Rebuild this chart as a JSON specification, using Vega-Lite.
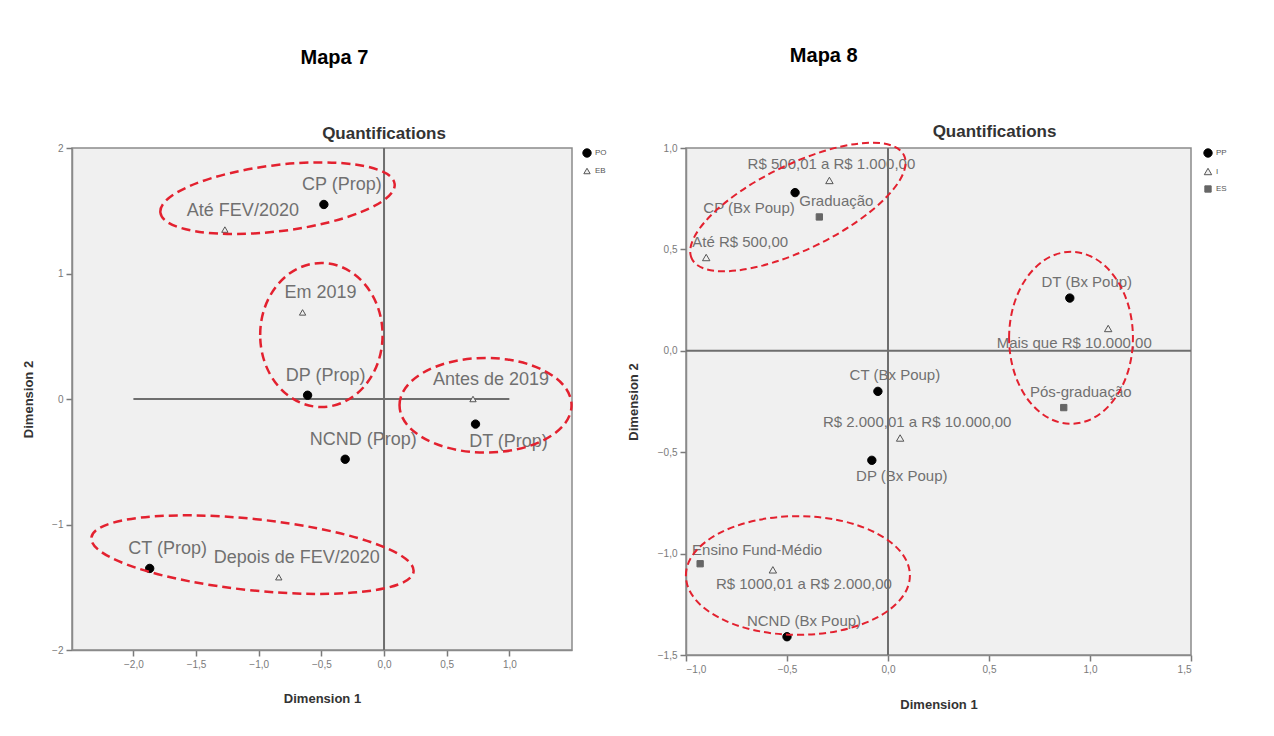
{
  "$schema": "https://vega.github.io/schema/vega-lite/v6.json",
  "background": "white",
  "padding": {"left": 21, "top": 45, "right": 5, "bottom": 5},
  "datasets": {
    "m7": [
      {"lab": "CP (Prop)", "g": "PO", "x": -0.48, "y": 1.55},
      {"lab": "DP (Prop)", "g": "PO", "x": -0.61, "y": 0.03},
      {"lab": "DT (Prop)", "g": "PO", "x": 0.73, "y": -0.2},
      {"lab": "NCND (Prop)", "g": "PO", "x": -0.31, "y": -0.48},
      {"lab": "CT (Prop)", "g": "PO", "x": -1.87, "y": -1.35},
      {"lab": "Até FEV/2020", "g": "EB", "x": -1.27, "y": 1.35},
      {"lab": "Em 2019", "g": "EB", "x": -0.65, "y": 0.69},
      {"lab": "Antes de 2019", "g": "EB", "x": 0.71, "y": 0.0},
      {"lab": "Depois de FEV/2020", "g": "EB", "x": -0.84, "y": -1.42}
    ],
    "m8": [
      {"lab": "CP (Bx Poup)", "g": "PP", "x": -0.46, "y": 0.78},
      {"lab": "CT (Bx Poup)", "g": "PP", "x": -0.05, "y": -0.2},
      {"lab": "DT (Bx Poup)", "g": "PP", "x": 0.9, "y": 0.26},
      {"lab": "DP (Bx Poup)", "g": "PP", "x": -0.08, "y": -0.54},
      {"lab": "NCND (Bx Poup)", "g": "PP", "x": -0.5, "y": -1.41},
      {"lab": "R$ 500,01 a R$ 1.000,00", "g": "I", "x": -0.29, "y": 0.84},
      {"lab": "Até R$ 500,00", "g": "I", "x": -0.9, "y": 0.46},
      {"lab": "Mais que R$ 10.000,00", "g": "I", "x": 1.09, "y": 0.11},
      {"lab": "R$ 2.000,01 a R$ 10.000,00", "g": "I", "x": 0.06, "y": -0.43},
      {"lab": "R$ 1000,01 a R$ 2.000,00", "g": "I", "x": -0.57, "y": -1.08},
      {"lab": "Graduação", "g": "ES", "x": -0.34, "y": 0.66},
      {"lab": "Pós-graduação", "g": "ES", "x": 0.87, "y": -0.28},
      {"lab": "Ensino Fund-Médio", "g": "ES", "x": -0.93, "y": -1.05}
    ],
    "m7ref": [
      {"x": -2, "x2": 1, "y": 0, "y2": 0},
      {"x": 0, "x2": 0, "y": -2, "y2": 2}
    ],
    "m8ref": [
      {"x": -1, "x2": 1.5, "y": 0, "y2": 0},
      {"x": 0, "x2": 0, "y": -1.5, "y2": 1}
    ],
    "m7e": [
      {"e": "e1", "x": -0.85, "y": 1.6},
      {"e": "e2", "x": -0.5, "y": 0.51},
      {"e": "e3", "x": 0.81, "y": -0.05},
      {"e": "e4", "x": -1.05, "y": -1.24}
    ],
    "m8e": [
      {"e": "e5", "x": -0.446, "y": 0.709},
      {"e": "e6", "x": 0.906, "y": 0.064},
      {"e": "e7", "x": -0.446, "y": -1.108}
    ]
  },
  "config": {
    "font": "Liberation Sans",
    "view": {"fill": "#f0f0f0", "stroke": "#8a8a8a", "strokeWidth": 1.5},
    "axis": {
      "grid": false,
      "labelFont": "Liberation Sans",
      "labelFontSize": 10,
      "labelColor": "#7a7a7a",
      "tickColor": "#7a7a7a",
      "tickSize": 6,
      "tickWidth": 1.5,
      "domainColor": "#8a8a8a",
      "domainWidth": 1.5,
      "labelPadding": 3,
      "titleFont": "Liberation Sans",
      "titleFontSize": 13,
      "titleFontWeight": "bold",
      "titleColor": "#333333"
    },
    "legend": {
      "orient": "right",
      "padding": 0,
      "labelFontSize": 8,
      "labelColor": "#555555",
      "symbolStrokeWidth": 1,
      "rowPadding": 6,
      "labelOffset": 3
    },
    "concat": {"spacing": 19}
  },
  "resolve": {
    "scale": {"shape": "independent", "fill": "independent", "stroke": "independent", "size": "independent"},
    "legend": {"shape": "independent", "fill": "independent", "stroke": "independent", "size": "independent"}
  },
  "hconcat": [
    {
      "title": {"text": "Mapa 7", "fontSize": 20, "fontWeight": "bold", "color": "#000000", "anchor": "middle", "frame": "bounds", "dx": 20, "offset": 56},
      "vconcat": [
        {
          "width": 500,
          "height": 502,
          "title": {"text": "Quantifications", "fontSize": 17, "fontWeight": "bold", "color": "#333333", "anchor": "middle", "frame": "group", "dx": 62, "offset": 0},
          "encoding": {
            "x": {"field": "x", "type": "quantitative", "scale": {"domain": [-2.49, 1.5], "nice": false, "zero": false},
              "axis": {"values": [-2, -1.5, -1, -0.5, 0, 0.5, 1], "labelExpr": "replace(format(datum.value, '.1f'), '.', ',')", "title": "Dimension 1", "titlePadding": 23}},
            "y": {"field": "y", "type": "quantitative", "scale": {"domain": [-2, 2], "nice": false, "zero": false},
              "axis": {"values": [-2, -1, 0, 1, 2], "format": "d", "title": "Dimension 2", "titlePadding": 16}}
          },
          "layer": [
            {
              "data": {"name": "m7ref"},
              "mark": {"type": "rule", "color": "#6e6e6e", "strokeWidth": 2},
              "encoding": {"x2": {"field": "x2"}, "y2": {"field": "y2"}}
            },
            {
              "data": {"name": "m7"},
              "mark": {"type": "point", "filled": true, "opacity": 1, "strokeWidth": 1},
              "encoding": {
                "shape": {"field": "g", "type": "nominal", "scale": {"domain": ["PO", "EB"], "range": ["circle", "triangle-up"]}, "legend": {"title": null, "offset": 4}},
                "fill": {"field": "g", "type": "nominal", "scale": {"domain": ["PO", "EB"], "range": ["#000000", "#f0f0f0"]}, "legend": {"title": null, "offset": 4}},
                "stroke": {"field": "g", "type": "nominal", "scale": {"domain": ["PO", "EB"], "range": ["#000000", "#555555"]}, "legend": {"title": null, "offset": 4}},
                "size": {"field": "g", "type": "nominal", "scale": {"domain": ["PO", "EB"], "range": [70, 40]}, "legend": {"title": null, "offset": 4}}
              }
            },
            {
              "data": {"name": "m7"},
              "transform": [{"filter": "datum.lab !== 'DT (Prop)'"}],
              "mark": {"type": "text", "dx": 18, "dy": -19, "fontSize": 18, "fill": "#707070"},
              "encoding": {"text": {"field": "lab"}}
            },
            {
              "data": {"name": "m7"},
              "transform": [{"filter": "datum.lab === 'DT (Prop)'"}],
              "mark": {"type": "text", "dx": 33, "dy": 18, "fontSize": 18, "fill": "#707070"},
              "encoding": {"text": {"field": "lab"}}
            },
            {
              "data": {"name": "m7e"},
              "transform": [{"filter": "datum.e === 'e1'"}],
              "mark": {"type": "point", "filled": false, "opacity": 1, "shape": "M -1 0 C -1 -0.1546 -0.5523 -0.28 0 -0.28 C 0.5523 -0.28 1 -0.1546 1 0 C 1 0.1546 0.5523 0.28 0 0.28 C -0.5523 0.28 -1 0.1546 -1 0 Z", "size": 55696, "angle": -7, "color": "#e3212f", "stroke": "#e3212f", "strokeWidth": 2.5, "strokeDash": [9, 5]}
            },
            {
              "data": {"name": "m7e"},
              "transform": [{"filter": "datum.e === 'e2'"}],
              "mark": {"type": "point", "filled": false, "opacity": 1, "shape": "M -0.85 0 C -0.85 -0.5523 -0.4695 -1 0 -1 C 0.4695 -1 0.85 -0.5523 0.85 0 C 0.85 0.5523 0.4695 1 0 1 C -0.4695 1 -0.85 0.5523 -0.85 0 Z", "size": 20736, "angle": 0, "color": "#e3212f", "stroke": "#e3212f", "strokeWidth": 2.5, "strokeDash": [9, 5]}
            },
            {
              "data": {"name": "m7e"},
              "transform": [{"filter": "datum.e === 'e3'"}],
              "mark": {"type": "point", "filled": false, "opacity": 1, "shape": "M -1 0 C -1 -0.3038 -0.5523 -0.55 0 -0.55 C 0.5523 -0.55 1 -0.3038 1 0 C 1 0.3038 0.5523 0.55 0 0.55 C -0.5523 0.55 -1 0.3038 -1 0 Z", "size": 29584, "angle": 0, "color": "#e3212f", "stroke": "#e3212f", "strokeWidth": 2.5, "strokeDash": [9, 5]}
            },
            {
              "data": {"name": "m7e"},
              "transform": [{"filter": "datum.e === 'e4'"}],
              "mark": {"type": "point", "filled": false, "opacity": 1, "shape": "M -1 0 C -1 -0.1215 -0.5523 -0.22 0 -0.22 C 0.5523 -0.22 1 -0.1215 1 0 C 1 0.1215 0.5523 0.22 0 0.22 C -0.5523 0.22 -1 0.1215 -1 0 Z", "size": 104976, "angle": 6, "color": "#e3212f", "stroke": "#e3212f", "strokeWidth": 2.5, "strokeDash": [9, 5]}
            }
          ]
        }
      ]
    },
    {
      "title": {"text": "Mapa 8", "fontSize": 20, "fontWeight": "bold", "color": "#000000", "anchor": "middle", "frame": "bounds", "dx": -103, "offset": 56},
      "vconcat": [
        {
          "width": 505,
          "height": 507,
          "title": {"text": "Quantifications", "fontSize": 17, "fontWeight": "bold", "color": "#333333", "anchor": "middle", "frame": "group", "dx": 56, "offset": -2},
          "encoding": {
            "x": {"field": "x", "type": "quantitative", "scale": {"domain": [-1, 1.5], "nice": false, "zero": false},
              "axis": {"values": [-1, -0.5, 0, 0.5, 1, 1.5], "labelExpr": "replace(format(datum.value, '.1f'), '.', ',')", "title": "Dimension 1", "titlePadding": 24}},
            "y": {"field": "y", "type": "quantitative", "scale": {"domain": [-1.5, 1], "nice": false, "zero": false},
              "axis": {"values": [-1.5, -1, -0.5, 0, 0.5, 1], "labelExpr": "replace(format(datum.value, '.1f'), '.', ',')", "title": "Dimension 2", "titlePadding": 17}}
          },
          "layer": [
            {
              "data": {"name": "m8ref"},
              "mark": {"type": "rule", "color": "#6e6e6e", "strokeWidth": 2},
              "encoding": {"x2": {"field": "x2"}, "y2": {"field": "y2"}}
            },
            {
              "data": {"name": "m8"},
              "mark": {"type": "point", "filled": true, "opacity": 1, "strokeWidth": 1},
              "encoding": {
                "shape": {"field": "g", "type": "nominal", "scale": {"domain": ["PP", "I", "ES"], "range": ["circle", "triangle-up", "square"]}, "legend": {"title": null, "offset": 10}},
                "fill": {"field": "g", "type": "nominal", "scale": {"domain": ["PP", "I", "ES"], "range": ["#000000", "#f0f0f0", "#666666"]}, "legend": {"title": null, "offset": 10}},
                "stroke": {"field": "g", "type": "nominal", "scale": {"domain": ["PP", "I", "ES"], "range": ["#000000", "#555555", "#666666"]}, "legend": {"title": null, "offset": 10}},
                "size": {"field": "g", "type": "nominal", "scale": {"domain": ["PP", "I", "ES"], "range": [70, 40, 60]}, "legend": {"title": null, "offset": 10}}
              }
            },
            {
              "data": {"name": "m8"},
              "transform": [{"filter": {"field": "lab", "oneOf": ["Graduação", "CT (Bx Poup)", "DT (Bx Poup)", "Pós-graduação", "R$ 2.000,01 a R$ 10.000,00", "NCND (Bx Poup)"]}}],
              "mark": {"type": "text", "dx": 17, "dy": -16, "fontSize": 15, "fill": "#707070"},
              "encoding": {"text": {"field": "lab"}}
            },
            {
              "data": {"name": "m8"},
              "transform": [{"filter": "datum.lab === 'R$ 500,01 a R$ 1.000,00'"}],
              "mark": {"type": "text", "dx": 2, "dy": -16, "fontSize": 15, "fill": "#707070"},
              "encoding": {"text": {"field": "lab"}}
            },
            {
              "data": {"name": "m8"},
              "transform": [{"filter": "datum.lab === 'CP (Bx Poup)'"}],
              "mark": {"type": "text", "dx": -46, "dy": 15, "fontSize": 15, "fill": "#707070"},
              "encoding": {"text": {"field": "lab"}}
            },
            {
              "data": {"name": "m8"},
              "transform": [{"filter": "datum.lab === 'Até R$ 500,00'"}],
              "mark": {"type": "text", "dx": 34, "dy": -16, "fontSize": 15, "fill": "#707070"},
              "encoding": {"text": {"field": "lab"}}
            },
            {
              "data": {"name": "m8"},
              "transform": [{"filter": "datum.lab === 'Mais que R$ 10.000,00'"}],
              "mark": {"type": "text", "dx": -34, "dy": 15, "fontSize": 15, "fill": "#707070"},
              "encoding": {"text": {"field": "lab"}}
            },
            {
              "data": {"name": "m8"},
              "transform": [{"filter": "datum.lab === 'DP (Bx Poup)'"}],
              "mark": {"type": "text", "dx": 30, "dy": 16, "fontSize": 15, "fill": "#707070"},
              "encoding": {"text": {"field": "lab"}}
            },
            {
              "data": {"name": "m8"},
              "transform": [{"filter": "datum.lab === 'Ensino Fund-Médio'"}],
              "mark": {"type": "text", "dx": 57, "dy": -14, "fontSize": 15, "fill": "#707070"},
              "encoding": {"text": {"field": "lab"}}
            },
            {
              "data": {"name": "m8"},
              "transform": [{"filter": "datum.lab === 'R$ 1000,01 a R$ 2.000,00'"}],
              "mark": {"type": "text", "dx": 31, "dy": 14, "fontSize": 15, "fill": "#707070"},
              "encoding": {"text": {"field": "lab"}}
            },
            {
              "data": {"name": "m8e"},
              "transform": [{"filter": "datum.e === 'e5'"}],
              "mark": {"type": "point", "filled": false, "opacity": 1, "shape": "M -1 0 C -1 -0.1988 -0.5523 -0.36 0 -0.36 C 0.5523 -0.36 1 -0.1988 1 0 C 1 0.1988 0.5523 0.36 0 0.36 C -0.5523 0.36 -1 0.1988 -1 0 Z", "size": 55696, "angle": -26, "color": "#e3212f", "stroke": "#e3212f", "strokeWidth": 2, "strokeDash": [7, 4]}
            },
            {
              "data": {"name": "m8e"},
              "transform": [{"filter": "datum.e === 'e6'"}],
              "mark": {"type": "point", "filled": false, "opacity": 1, "shape": "M -0.72 0 C -0.72 -0.5523 -0.3977 -1 0 -1 C 0.3977 -1 0.72 -0.5523 0.72 0 C 0.72 0.5523 0.3977 1 0 1 C -0.3977 1 -0.72 0.5523 -0.72 0 Z", "size": 29584, "angle": 0, "color": "#e3212f", "stroke": "#e3212f", "strokeWidth": 2, "strokeDash": [7, 4]}
            },
            {
              "data": {"name": "m8e"},
              "transform": [{"filter": "datum.e === 'e7'"}],
              "mark": {"type": "point", "filled": false, "opacity": 1, "shape": "M -1 0 C -1 -0.2927 -0.5523 -0.53 0 -0.53 C 0.5523 -0.53 1 -0.2927 1 0 C 1 0.2927 0.5523 0.53 0 0.53 C -0.5523 0.53 -1 0.2927 -1 0 Z", "size": 50176, "angle": 0, "color": "#e3212f", "stroke": "#e3212f", "strokeWidth": 2, "strokeDash": [7, 4]}
            }
          ]
        }
      ]
    }
  ]
}
